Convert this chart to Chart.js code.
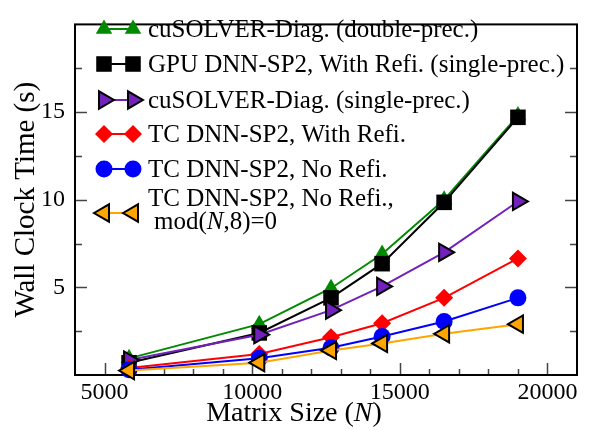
<!DOCTYPE html>
<html>
<head>
<meta charset="utf-8">
<script src="https://cdn.jsdelivr.net/npm/chart.js@4"></script>
<style>
  html, body { margin: 0; padding: 0; background: #fff; }
  #wrap { width: 589px; height: 430px; }
</style>
</head>
<body>
<div id="wrap"><canvas id="chart"></canvas></div>
<script>
// matrix sizes (N) and wall clock times (s)
const matrixSize = [5830, 10240, 12670, 14400, 16500, 19000];
const cusolverDouble = [0.95, 2.9, 4.95, 6.9, 10.0, 14.8];
const gpuSp2Refi = [0.7, 2.4, 4.4, 6.35, 9.85, 14.7];
const cusolverSingle = [0.85, 2.3, 3.7, 5.05, 7.0, 9.9];
const tcSp2Refi = [0.4, 1.2, 2.15, 2.95, 4.4, 6.65];
const tcSp2NoRefi = [0.3, 0.95, 1.55, 2.2, 3.05, 4.4];
const tcSp2NoRefiMod8 = [0.25, 0.7, 1.4, 1.8, 2.35, 2.9];

const seriesLabels = [
  'cuSOLVER-Diag. (double-prec.)',
  'GPU DNN-SP2, With Refi. (single-prec.)',
  'cuSOLVER-Diag. (single-prec.)',
  'TC DNN-SP2, With Refi.',
  'TC DNN-SP2, No Refi.',
  'TC DNN-SP2, No Refi.,'
];
const xTicks = [5000, 10000, 15000, 20000];
const yTicks = [5, 10, 15];
const xMinor = [6000, 7000, 8000, 9000, 11000, 12000, 13000, 14000, 16000, 17000, 18000, 19000];
const yMinor = [2.5, 7.5, 12.5, 17.5];

const SERIF = "'Liberation Serif', 'Times New Roman', serif";

function pts(vals) {
  return matrixSize.map((x, i) => ({ x: x, y: vals[i] }));
}

function makeSet(idx, vals, color, style, radius, rotation, border) {
  return {
    label: seriesLabels[idx],
    data: pts(vals),
    borderColor: color,
    backgroundColor: color,
    borderWidth: 2,
    pointStyle: style,
    pointRadius: radius,
    pointRotation: rotation,
    pointBackgroundColor: color,
    pointBorderColor: border || color,
    pointBorderWidth: border ? 2 : 0,
    order: 10 - idx,
    clip: false
  };
}

const datasets = [
  makeSet(0, cusolverDouble, '#008a00', 'triangle', 9.5, 0),
  makeSet(1, gpuSp2Refi, '#000000', 'rect', 11, 0),
  makeSet(2, cusolverSingle, '#7221bc', 'triangle', 10, 90, '#000'),
  makeSet(3, tcSp2Refi, '#ff0000', 'rectRot', 9, 0),
  makeSet(4, tcSp2NoRefi, '#0000ff', 'circle', 8.5, 0),
  makeSet(5, tcSp2NoRefiMod8, '#ffa500', 'triangle', 10, -90, '#000')
];

function drawMarker(ctx, ds, x, y) {
  ctx.save();
  ctx.fillStyle = ds.pointBackgroundColor;
  ctx.strokeStyle = ds.pointBorderColor;
  ctx.lineWidth = ds.pointBorderWidth;
  Chart.helpers.drawPoint(ctx, {
    pointStyle: ds.pointStyle,
    radius: ds.pointRadius,
    rotation: ds.pointRotation,
    borderWidth: ds.pointBorderWidth
  }, x, y);
  ctx.restore();
}

// text pieces: [string, italic]
function drawPieces(ctx, pieces, x, y, size, align) {
  let total = 0;
  pieces.forEach(p => {
    ctx.font = (p[1] ? 'italic ' : '') + size + 'px ' + SERIF;
    total += ctx.measureText(p[0]).width;
  });
  let cx = align === 'center' ? x - total / 2 : x;
  ctx.textAlign = 'left';
  pieces.forEach(p => {
    ctx.font = (p[1] ? 'italic ' : '') + size + 'px ' + SERIF;
    ctx.fillText(p[0], cx, y);
    cx += ctx.measureText(p[0]).width;
  });
}

const framePlugin = {
  id: 'frame',
  beforeDatasetsDraw(chart) {
    const { ctx, chartArea: a, scales } = chart;
    ctx.save();
    ctx.strokeStyle = '#444';
    ctx.lineWidth = 1.5;
    ctx.beginPath();
    xTicks.concat(xMinor).forEach(v => {
      const px = Math.round(scales.x.getPixelForValue(v)) + 0.5;
      const len = xTicks.includes(v) ? 12 : 6;
      ctx.moveTo(px, a.bottom);
      ctx.lineTo(px, a.bottom - len);
    });
    yTicks.concat(yMinor).forEach(v => {
      const py = Math.round(scales.y.getPixelForValue(v)) + 0.5;
      const len = yTicks.includes(v) ? 12 : 7;
      ctx.moveTo(a.left, py);
      ctx.lineTo(a.left + len, py);
      ctx.moveTo(a.right, py);
      ctx.lineTo(a.right - len, py);
    });
    ctx.stroke();
    ctx.strokeStyle = '#000';
    ctx.lineWidth = 2;
    ctx.strokeRect(a.left, a.top, a.right - a.left, a.bottom - a.top);
    ctx.restore();
  },
  afterDraw(chart) {
    const { ctx, chartArea: a } = chart;
    ctx.save();
    ctx.fillStyle = '#000';
    ctx.textBaseline = 'alphabetic';

    // axis titles
    drawPieces(ctx, [['Matrix Size (', false], ['N', true], [')', false]], 294, 421, 28, 'center');
    ctx.save();
    ctx.translate(34, (a.top + a.bottom) / 2);
    ctx.rotate(-Math.PI / 2);
    drawPieces(ctx, [['Wall Clock Time (s)', false]], 0, 0, 29, 'center');
    ctx.restore();

    // legend
    const rows = [29, 64, 100, 134, 169, 213];
    chart.data.datasets.forEach((ds, i) => {
      const y = rows[i];
      ctx.save();
      ctx.strokeStyle = ds.borderColor;
      ctx.lineWidth = 2;
      ctx.beginPath();
      ctx.moveTo(104, y);
      ctx.lineTo(133, y);
      ctx.stroke();
      ctx.restore();
      drawMarker(ctx, ds, 104, y);
      drawMarker(ctx, ds, 133, y);
      ctx.fillStyle = '#000';
      if (i < 5) {
        drawPieces(ctx, [[ds.label, false]], 148, y + 8, 25, 'left');
      } else {
        drawPieces(ctx, [[ds.label, false]], 148, 206, 25, 'left');
        drawPieces(ctx, [['mod(', false], ['N', true], [',8)=0', false]], 154, 229, 25, 'left');
      }
    });
    ctx.restore();
  }
};

new Chart(document.getElementById('chart'), {
  type: 'line',
  data: { datasets: datasets },
  plugins: [framePlugin],
  options: {
    responsive: true,
    maintainAspectRatio: false,
    animation: false,
    layout: { padding: { top: 7, right: 5, left: 0, bottom: 0 } },
    plugins: { legend: { display: false }, tooltip: { enabled: false } },
    scales: {
      x: {
        type: 'linear',
        min: 4000,
        max: 21000,
        grid: { display: false, drawTicks: false },
        border: { display: false },
        ticks: { color: '#000', padding: 3, font: { family: SERIF, size: 24 }, callback: v => String(v) },
        afterBuildTicks: s => { s.ticks = xTicks.map(v => ({ value: v })); },
        afterFit: s => { s.height = 55; }
      },
      y: {
        type: 'linear',
        min: 0,
        max: 20,
        grid: { display: false, drawTicks: false },
        border: { display: false },
        ticks: { color: '#000', padding: 10, font: { family: SERIF, size: 24 }, callback: v => String(v) },
        afterBuildTicks: s => { s.ticks = yTicks.map(v => ({ value: v })); },
        afterFit: s => { s.width = 75; }
      }
    }
  }
});
</script>
</body>
</html>
